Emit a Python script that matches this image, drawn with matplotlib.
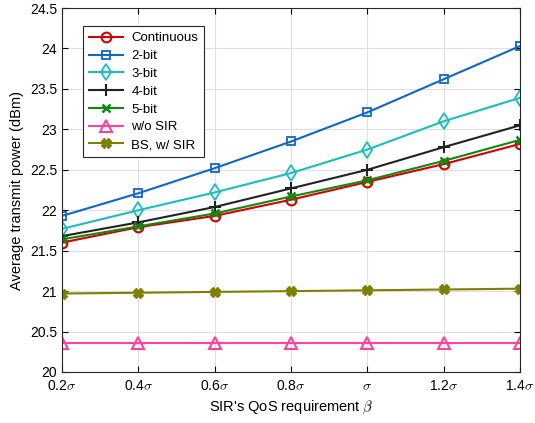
import matplotlib
matplotlib.use("Agg")
import matplotlib.pyplot as plt
import numpy as np

plt.rcParams['font.family'] = ['Liberation Sans', 'DejaVu Sans']
plt.rcParams['mathtext.fontset'] = 'cm'

beta = [0.2, 0.4, 0.6, 0.8, 1.0, 1.2, 1.4]
xlabels = [r'0.2$\sigma$', r'0.4$\sigma$', r'0.6$\sigma$', r'0.8$\sigma$', r'$\sigma$', r'1.2$\sigma$', r'1.4$\sigma$']

continuous = [21.60, 21.79, 21.93, 22.13, 22.35, 22.57, 22.82]
bit2 = [21.93, 22.21, 22.52, 22.85, 23.21, 23.62, 24.03]
bit3 = [21.77, 22.00, 22.22, 22.46, 22.75, 23.10, 23.39]
bit4 = [21.68, 21.85, 22.04, 22.27, 22.50, 22.78, 23.05]
bit5 = [21.64, 21.80, 21.96, 22.17, 22.37, 22.61, 22.87]
wo_sir = [20.355, 20.355, 20.355, 20.355, 20.355, 20.355, 20.355]
bs_sir = [20.97, 20.98, 20.99, 21.00, 21.01, 21.02, 21.03]

fig = plt.figure(figsize=(5.35, 4.23), dpi=100)
ax = fig.add_axes([0.116, 0.1206, 0.856, 0.8604])

lw = 1.5
ax.plot(beta, continuous, '-o', color='#D40000', lw=lw, ms=7, mfc='none', mew=1.5, label='Continuous')
ax.plot(beta, bit2, '-s', color='#1166CC', lw=lw, ms=6, mfc='none', mew=1.3, label='2-bit')
ax.plot(beta, bit3, '-d', color='#1DBDBD', lw=lw, ms=8, mfc='none', mew=1.3, label='3-bit')
ax.plot(beta, bit4, '-+', color='#222222', lw=lw, ms=9, mew=1.5, label='4-bit')
ax.plot(beta, bit5, '-x', color='#118811', lw=lw, ms=6, mew=1.8, label='5-bit')
ax.plot(beta, wo_sir, '-^', color='#FF4499', lw=lw, ms=8, mfc='none', mew=1.5, label='w/o SIR')
ax.plot(beta, bs_sir, '-X', color='#808000', lw=lw, ms=7, label='BS, w/ SIR')

ax.set_xlim(0.2, 1.4)
ax.set_ylim(20, 24.5)
ax.set_xticks(beta)
ax.set_xticklabels(xlabels)
yt = np.arange(20, 24.51, 0.5)
ax.set_yticks(yt)
ax.set_yticklabels(['%g' % v for v in yt])
ax.tick_params(direction='in', top=True, right=True, labelsize=10, length=4)
ax.tick_params(axis='x', pad=5)
ax.grid(True, color='#E0E0E0', lw=0.8)
ax.set_axisbelow(True)
for s in ax.spines.values():
    s.set_linewidth(0.8)
    s.set_color('#262626')

ax.set_xlabel("SIR's QoS requirement $\\beta$", fontsize=10.5)
ax.set_ylabel('Average transmit power (dBm)', fontsize=10.5)

leg = ax.legend(loc='upper left', bbox_to_anchor=(0.046, 0.95), borderaxespad=0, fontsize=9.5,
                fancybox=False, edgecolor='#262626', framealpha=1, handlelength=2.6,
                borderpad=0.45, labelspacing=0.42, handletextpad=0.6)
leg.get_frame().set_linewidth(0.8)

fig.savefig('out.png', dpi=100)
